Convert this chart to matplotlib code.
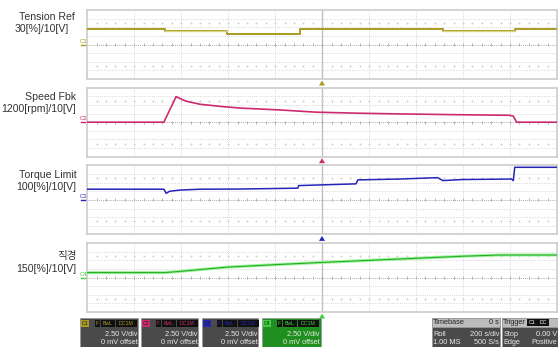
import matplotlib.pyplot as plt
from matplotlib.patches import Rectangle, Polygon

W, H = 558, 347

# x in seconds (200 s/div, 10 div), y in volts (2.50 V/div, 8 div)
tension_t = [0, 330, 594, 906, 1514, 1820, 2000]
tension_v = [4.6, 4.0, 3.15, 4.6, 4.0, 4.6]
tension_light = [False, True, False, False, True, False]

speed_t = [0, 326, 378, 420, 480, 564, 650, 820, 976, 1160, 1330, 1544, 1798, 1814, 1828, 2000]
speed_v = [0, 0, 7.4, 6.1, 5.2, 4.6, 4.1, 3.55, 2.9, 2.6, 2.4, 2.2, 2.0, 1.75, 0, 0]

torque_t = [0, 326, 336, 350, 394, 480, 650, 896, 900, 1144, 1152, 1330, 1492, 1514, 1594, 1806, 1814, 1820, 2000]
torque_v = [3.1, 3.1, 1.9, 2.5, 2.85, 3.1, 3.15, 3.4, 4.15, 4.65, 5.8, 6.05, 6.45, 5.6, 5.9, 6.05, 5.6, 9.45, 9.45]

dia_t = [0, 330, 394, 598, 800, 1000, 1200, 1400, 1600, 1756, 2000]
dia_v = [1.45, 1.45, 1.8, 3.05, 3.75, 4.4, 5.0, 5.6, 6.2, 6.55, 6.55]

names = ["Tension Ref", "Speed Fbk", "Torque Limit", "직경"]
scales = ["30[%]/10[V]", "1200[rpm]/10[V]", "100[%]/10[V]", "150[%]/10[V]"]
ch_names = ["C1", "C2", "C3", "C4"]
ch_colors = ["#a99b22", "#cc2a6e", "#2525b8", "#3fcf3f"]
vdiv = ["2.50 V/div"] * 4
offsets = ["0 mV offset"] * 4

font = ["Liberation Sans", "Noto Sans CJK KR"]

fig = plt.figure(figsize=(W / 100, H / 100), dpi=100)
fig.patch.set_facecolor("white")

bg = fig.add_axes([0, 0, 1, 1])
bg.set_xlim(0, W)
bg.set_ylim(H, 0)
bg.axis("off")

left, right, height = 87.3, 557, 69
tops = [10, 87.7, 165.4, 243.1]
name_pos = [(75, 16.7), (76, 97.3), (76.7, 175), (77, 255.7)]
scale_pos = [(69.3, 29.3), (76, 109), (76, 186.7), (76.7, 269.3)]

axes = []
for i, top in enumerate(tops):
    ax = fig.add_axes([left / W, 1 - (top + height) / H, (right - left) / W, height / H])
    ax.set_xlim(0, 2000)
    ax.set_ylim(-10, 10)
    ax.set_xticks([])
    ax.set_yticks([])
    for s in ax.spines.values():
        s.set_color("#cccccc")
        s.set_linewidth(1.2)
    for x in range(200, 2000, 200):
        if x == 1000:
            ax.axvline(x, color="#c0c0c0", lw=1.0, zorder=1)
        else:
            ax.axvline(x, color="#cdcdcd", lw=0.6, ls=(0, (1, 1.5)), zorder=1)
    for y in [-7.5, -5, -2.5, 2.5, 5, 7.5]:
        ax.axhline(y, color="#cdcdcd", lw=0.6, ls=(0, (1, 1.5)), zorder=1)
    ax.axhline(0, color="#b0b0b0", lw=0.7, ls=(0, (1, 1)), zorder=1)
    sub = list(range(40, 2000, 40))
    ax.vlines(sub, -0.45, 0.45, color="#a8a8a8", lw=0.6, zorder=1)
    ax.plot(sub, [6.25] * len(sub), ls="none", marker="s", ms=0.45, color="#d0d0d0", zorder=1)
    ax.plot(sub, [-6.25] * len(sub), ls="none", marker="s", ms=0.45, color="#d0d0d0", zorder=1)
    axes.append(ax)

    c = ch_colors[i]
    cy = top + height / 2
    bg.plot([81, 87], [cy, cy], color=c, lw=1.0)
    bg.text(83.5, cy - 1.0, ch_names[i], color=c, fontsize=4.4, ha="center", va="bottom",
            family=font)
    bot = top + height
    bg.add_patch(Polygon([(319, bot + 6.5), (325, bot + 6.5), (322, bot + 1.5)],
                         closed=True, color=c, lw=0))
    bg.text(name_pos[i][0], name_pos[i][1], names[i], ha="right", va="center",
            fontsize=7.6, color="#333333", family=font)
    bg.text(scale_pos[i][0], scale_pos[i][1], scales[i], ha="right", va="center",
            fontsize=7.6, color="#333333", family=font)

# traces
ax = axes[0]
ax.step(tension_t, tension_v + [tension_v[-1]], where="post", color=ch_colors[0], lw=1.4, zorder=3)
for k, light in enumerate(tension_light):
    if light:
        ax.plot([tension_t[k], tension_t[k + 1]], [tension_v[k]] * 2, color="#dcd47a",
                lw=1.0, zorder=4)
axes[1].plot(speed_t, speed_v, color=ch_colors[1], lw=1.2, zorder=3)
axes[2].plot(torque_t, torque_v, color=ch_colors[2], lw=1.1, zorder=3)
axes[3].plot(dia_t, dia_v, color="#9ef09e", lw=2.2, zorder=3)
axes[3].plot(dia_t, dia_v, color="#22b022", lw=0.8, zorder=4)

# LeCroy logo
bg.text(540, 15, "LeCroy", ha="center", va="center", fontsize=7.2, color="#444444",
        family=font)
bg.plot([524, 556], [19.5, 19.5], color="#555555", lw=0.7)

# bottom channel boxes
boxes = [(80, 138.3), (141, 198.3), (202, 258.3), (262, 320.7)]
fs = 5.3
for i, (x0, x1) in enumerate(boxes):
    c = ch_colors[i]
    face = "#1f8f1f" if i == 3 else "#4a4a4a"
    bg.add_patch(Rectangle((x0, 318.3), x1 - x0, 30, facecolor=face, edgecolor="#9a9a9a", lw=0.6))
    bg.add_patch(Rectangle((x0 + 1, 319.6), 7.5, 7, facecolor=c, edgecolor="none"))
    bg.text(x0 + 4.7, 323.2, ch_names[i], ha="center", va="center", fontsize=3.8,
            color="#222222", family=font)
    for lbl, a, b in [("F", 15, 20), ("BwL", 20.7, 35), ("DC1M", 35.7, 56.7)]:
        bg.add_patch(Rectangle((x0 + a, 319.6), b - a, 7, facecolor="#111111", edgecolor="none"))
        bg.text(x0 + (a + b) / 2, 323.2, lbl, ha="center", va="center", fontsize=3.8,
                color=c, family=font)
    bg.text(x1 - 1, 334, vdiv[i], ha="right", va="center", fontsize=fs, color="#e8e8e8",
            family=font)
    bg.text(x1 - 1, 342.5, offsets[i], ha="right", va="center", fontsize=fs, color="#e8e8e8",
            family=font)

# timebase and trigger boxes
tb = [(431.7, 500, [("Timebase", "0 s"), ("Roll", "200 s/div"), ("1.00 MS", "500 S/s")]),
      (501.7, 562, [("Trigger", ""), ("Stop", "0.00 V"), ("Edge", "Positive")])]
for x0, x1, rows in tb:
    bg.add_patch(Rectangle((x0, 318.3), x1 - x0, 30, facecolor="#4a4a4a", edgecolor="#9a9a9a", lw=0.6))
    bg.add_patch(Rectangle((x0, 318.3), x1 - x0, 8.2, facecolor="#bcbcbc", edgecolor="#9a9a9a", lw=0.6))
    for r, (l, rt) in enumerate(rows):
        yy = [322.6, 334, 342.5][r]
        col = "#222222" if r == 0 else "#e8e8e8"
        bg.text(x0 + 1.5, yy, l, ha="left", va="center", fontsize=fs, color=col, family=font)
        if rt:
            bg.text(min(x1, W) - 1, yy, rt, ha="right", va="center", fontsize=fs, color=col,
                    family=font)
bg.add_patch(Rectangle((526.7, 319.4), 10, 6.6, facecolor="#111111", edgecolor="none"))
bg.text(531.7, 322.7, "C1", ha="center", va="center", fontsize=3.8, color="white", family=font)
bg.add_patch(Rectangle((537.2, 319.4), 12, 6.6, facecolor="#111111", edgecolor="none"))
bg.text(543.2, 322.7, "DC", ha="center", va="center", fontsize=3.8, color="white", family=font)

fig.savefig("out.png", dpi=100)
